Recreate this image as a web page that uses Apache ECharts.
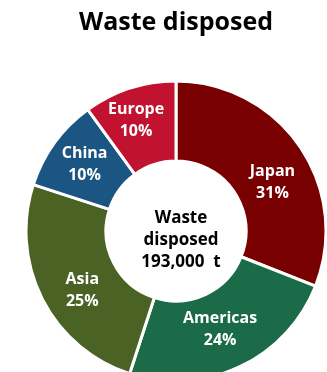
<!DOCTYPE html>
<html><head><meta charset="utf-8">
<script src="https://cdn.jsdelivr.net/npm/echarts@6/dist/echarts.min.js"></script>
<style>html,body{margin:0;padding:0;background:#fff}#c{width:327px;height:372px}</style>
</head><body><div id="c"></div>
<script>
const categories = ['Japan', 'Americas', 'Asia', 'China', 'Europe'];
const shares = [31, 24, 25, 10, 10];
const colors = ['#780000', '#1b6b48', '#4a6324', '#1b5582', '#c1122f'];
const centerText = ['Waste', 'disposed', '193,000  t'];
const titleText = 'Waste disposed';
// label nudges (styling only)
const labelNudges = [[3, 15], [-4, -4], [7, 8], [0, 0], [-5, -3]];

const chart = echarts.init(document.getElementById('c'), null, {renderer: 'canvas'});
const font = '"Open Sans", "Noto Sans", sans-serif';
chart.setOption({
  animation: false,
  title: [{
    text: titleText, left: 171, top: 5, textAlign: 'center',
    textStyle: {fontFamily: font, fontWeight: 'bold', fontSize: 25, color: '#000'}
  }, {
    text: centerText.join('\n'), left: 176, top: 235, textAlign: 'center', textVerticalAlign: 'middle',
    textStyle: {fontFamily: font, fontWeight: 'bold', fontSize: 17, lineHeight: 22, color: '#000'}
  }],
  series: [{
    type: 'pie',
    center: [176, 231],
    radius: [70, 150],
    startAngle: 90,
    clockwise: true,
    itemStyle: {borderColor: '#fff', borderWidth: 3},
    label: {
      position: 'inside', formatter: p => p.name + '\n' + p.value + '%',
      fontFamily: font, fontWeight: 'bold', fontSize: 16, lineHeight: 22, color: '#fff'
    },
    labelLine: {show: false},
    data: categories.map((n, i) => ({
      name: n, value: shares[i], itemStyle: {color: colors[i]},
      label: {offset: labelNudges[i]}
    }))
  }]
});
</script></body></html>
